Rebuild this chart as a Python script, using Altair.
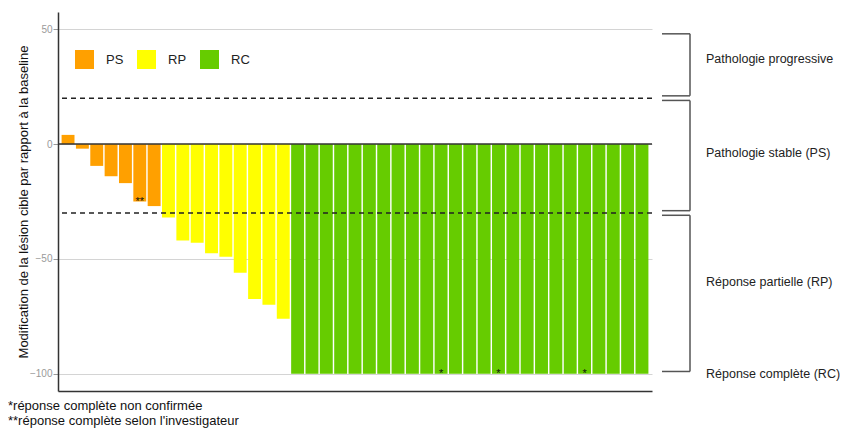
import altair as alt
import pandas as pd

# ---- data ----
categories = ["PS", "RP", "RC"]
cat_colors = ["#FFA000", "#FFFF00", "#66CC00"]

ps_values = [4, -2, -9.5, -14, -17, -25, -27]
rp_values = [-32, -42, -43, -47.5, -49, -56, -67.5, -70, -76]
rc_values = [-100, -100, -100, -100, -100, -100, -100, -100, -100, -100,
             -100, -100, -100, -100, -100, -100, -100, -100, -100, -100,
             -100, -100, -100, -100, -100]

# patient index (1-based) -> footnote marker
marker_patients = [6, 27, 31, 37]
marker_texts = ["**", "*", "*", "*"]

threshold_values = [20, -30]
y_ticks = [50, 0, -50, -100]

zone_labels = ["Pathologie progressive", "Pathologie stable (PS)",
               "Réponse partielle (RP)", "Réponse complète (RC)"]
zone_label_y = [37, -4, -60, -100]
bracket_top = [48, 19, -31]
bracket_bottom = [21, -29, -99]

footnotes = "*réponse complète non confirmée\n**réponse complète selon l'investigateur"
y_title = "Modification de la lésion cible par rapport à la baseline"

# ---- tables ----
values = ps_values + rp_values + rc_values
cats = ["PS"] * len(ps_values) + ["RP"] * len(rp_values) + ["RC"] * len(rc_values)
bars = pd.DataFrame({"idx": list(range(1, len(values) + 1)), "value": values, "cat": cats})
marks_df = pd.DataFrame({
    "idx": marker_patients,
    "txt": marker_texts,
    "value": [values[i - 1] for i in marker_patients],
})
thr_df = pd.DataFrame({"y": threshold_values})
zone_df = pd.DataFrame({"label": zone_labels, "y": zone_label_y})
br_df = pd.DataFrame({"top": bracket_top, "bottom": bracket_bottom})

FONT = "Liberation Sans, Arial, sans-serif"
W, H = 594, 379
ydom = [-107.5, 57.5]

yscale = alt.Scale(domain=ydom, nice=False, zero=False)
xscale = alt.Scale(paddingInner=0.1, paddingOuter=0.25)

base = alt.Chart(bars)

bar_layer = base.mark_bar(strokeWidth=0).encode(
    x=alt.X("idx:O", scale=xscale,
            axis=alt.Axis(labels=False, ticks=False, title=None, grid=False,
                          domainColor="#333333", domainWidth=1.5)),
    y=alt.Y("value:Q", scale=yscale,
            axis=alt.Axis(values=y_ticks, title=y_title, grid=True,
                          gridColor="#d4d4d4", gridWidth=1,
                          labelColor="#9a9a9a", labelFontSize=10, labelPadding=1,
                          tickColor="#9a9a9a", tickSize=5,
                          domainColor="#333333", domainWidth=1.5,
                          titleFontSize=13, titleFontWeight="normal",
                          titleColor="#111111", titleX=-31, titleY=H / 2,
                          titleBaseline="alphabetic", titleAngle=270)),
    y2=alt.datum(0),
    color=alt.Color("cat:N", scale=alt.Scale(domain=categories, range=cat_colors),
                    legend=alt.Legend(title=None, orient="none", legendX=17, legendY=38,
                                      direction="horizontal", symbolType="square",
                                      symbolSize=361, symbolStrokeWidth=0,
                                      labelFontSize=13, labelColor="#222222",
                                      labelOffset=12, columnPadding=13, padding=0)),
)

zero_rule = alt.Chart(pd.DataFrame({"y": [0]})).mark_rule(
    color="#333333", strokeWidth=1.5).encode(y=alt.Y("y:Q", scale=yscale))

thr_rules = alt.Chart(thr_df).mark_rule(
    color="#222222", strokeWidth=1.5, strokeDash=[5, 4]).encode(
    y=alt.Y("y:Q", scale=yscale))

marker_layer = alt.Chart(marks_df).mark_text(
    fontSize=11, color="#111111", baseline="alphabetic", dy=3, font=FONT).encode(
    x=alt.X("idx:O", scale=xscale), y=alt.Y("value:Q", scale=yscale), text="txt:N")

br_vert = alt.Chart(br_df).mark_rule(color="#555555", strokeWidth=1.5).encode(
    x=alt.value(632), y=alt.Y("top:Q", scale=yscale), y2="bottom:Q")
br_top = alt.Chart(br_df).mark_rule(color="#555555", strokeWidth=1.5).encode(
    x=alt.value(604), x2=alt.value(632), y=alt.Y("top:Q", scale=yscale))
br_bot = alt.Chart(br_df).mark_rule(color="#555555", strokeWidth=1.5).encode(
    x=alt.value(604), x2=alt.value(632), y=alt.Y("bottom:Q", scale=yscale))

zone_text = alt.Chart(zone_df).mark_text(
    align="left", baseline="middle", fontSize=12.5, color="#222222", font=FONT).encode(
    x=alt.value(648), y=alt.Y("y:Q", scale=yscale), text="label:N")

foot = alt.Chart(pd.DataFrame({"t": [footnotes]})).mark_text(
    align="left", baseline="alphabetic", fontSize=13, color="#111111",
    lineBreak="\n", lineHeight=15, font=FONT).encode(
    x=alt.value(-50), y=alt.value(398), text="t:N")

chart = alt.layer(
    bar_layer, zero_rule, thr_rules, marker_layer,
    br_vert, br_top, br_bot, zone_text, foot
).properties(
    width=W, height=H,
    autosize=alt.AutoSizeParams(type="none"),
    padding={"left": 50, "top": 4, "right": 189, "bottom": 41},
).configure(font=FONT).configure_view(stroke=None)

chart.save("out.html", embed_options={"renderer": "svg", "actions": False})
